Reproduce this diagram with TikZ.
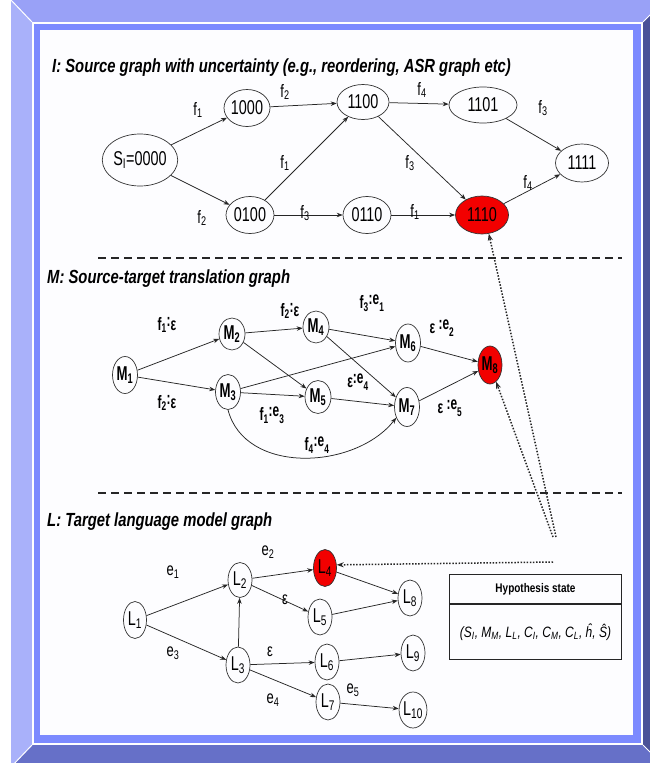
\documentclass[tikz,border=0pt]{standalone}
\usepackage{fontspec}
\setmainfont{Liberation Sans}
\newfontfamily\narrow{Liberation Sans}[FakeStretch=0.72]
\newfontfamily\mfont{Liberation Sans}[FakeStretch=0.66]
\newfontfamily\titlefont{Liberation Sans}[FakeStretch=0.78]
\newfontfamily\boxfont{Liberation Sans}[FakeStretch=0.8]
\usetikzlibrary{shapes.geometric,arrows.meta}

\definecolor{bevtop}{HTML}{99A1F7}
\definecolor{bevleft}{HTML}{A9B1FA}
\definecolor{bevright}{HTML}{4A5198}
\definecolor{bevbot}{HTML}{6670C8}
\definecolor{band}{HTML}{7C8AFF}
\definecolor{panel}{HTML}{FDFDFF}
\definecolor{hot}{HTML}{F20000}

% edge labels with a raised colon part, e.g. f_1 :e_3
\newcommand{\tl}[3]{#1\textsubscript{#2}\raisebox{4pt}{:}#3}
\newcommand{\tle}[1]{\raisebox{4pt}{:e}\textsubscript{#1}}

\begin{document}
\begin{tikzpicture}[x=1pt,y=-1pt,
  state/.style={ellipse,draw=black!80,line width=0.7pt,inner sep=0pt,
    font=\narrow\fontsize{20}{20}\selectfont},
  mstate/.style={ellipse,draw=black!80,line width=0.7pt,inner sep=0pt,
    minimum width=25pt,minimum height=36pt,font=\mfont\bfseries\fontsize{20}{20}\selectfont},
  lstate/.style={ellipse,draw=black!80,line width=0.7pt,inner sep=0pt,
    minimum width=24pt,minimum height=36pt,font=\narrow\fontsize{20}{20}\selectfont},
  hotfill/.style={fill=hot},
  arr/.style={-{Stealth[length=6pt,width=4.5pt]},line width=0.75pt,draw=black!85},
  dotarr/.style={-{Stealth[length=7pt,width=5pt]},line width=1.5pt,
    dash pattern=on 1.5pt off 1.6pt,draw=black!85},
  sepline/.style={line width=1.8pt,dash pattern=on 8pt off 5pt,draw=black!85},
  elab/.style={inner sep=0pt,font=\narrow\fontsize{18}{18}\selectfont},
  mlab/.style={inner sep=0pt,font=\mfont\bfseries\fontsize{18}{18}\selectfont},
  title/.style={inner sep=0pt,anchor=base west,font=\titlefont\bfseries\itshape\fontsize{19}{19}\selectfont}
]
\useasboundingbox (0,0) rectangle (650,763);

% bevelled frame
\begin{scope}
  \clip (0,0) rectangle (650,763);
  \fill[white] (0,0) rectangle (650,763);
  \fill[bevtop] (11,0) -- (665,0) -- (643,22) -- (32,22) -- cycle;
  \fill[bevleft] (11,0) -- (32,22) -- (32,745) -- (11,767) -- cycle;
  \fill[bevright] (665,0) -- (665,767) -- (643,745) -- (643,22) -- cycle;
  \fill[bevbot] (11,767) -- (32,745) -- (643,745) -- (665,767) -- cycle;
  \draw[white,line width=1pt] (11,0) -- (32,22) (665,0) -- (643,22)
    (11,767) -- (32,745) (665,767) -- (643,745);
  \fill[white] (32,22) rectangle (643,745);
  \fill[band] (33.5,23.5) rectangle (641,743);
  \fill[panel] (40,30) rectangle (633,735);
\end{scope}

% ---------- I: source graph ----------
\node[title] (tI) at (52,72) {I: Source graph with uncertainty (e.g., reordering, ASR graph etc)};

\node[state,minimum width=60pt,minimum height=52pt] (s) at (140,160) {S\textsubscript{I}=0000};
\node[state,minimum width=46pt,minimum height=37pt] (n1000) at (247,108) {1000};
\node[state,minimum width=48pt,minimum height=37pt] (n0100) at (250,215) {0100};
\node[state,minimum width=52pt,minimum height=35pt] (n1100) at (363,102) {1100};
\node[state,minimum width=68pt,minimum height=36pt] (n1101) at (483,105) {1101};
\node[state,minimum width=53pt,minimum height=38pt] (n1111) at (582,163) {1111};
\node[state,minimum width=48pt,minimum height=37pt] (n0110) at (367,215) {0110};
\node[state,hotfill,minimum width=53pt,minimum height=38pt] (n1110) at (482,215) {1110};

\draw[arr] (s) -- (n1000);
\draw[arr] (s) -- (n0100);
\draw[arr] (n1000) -- (n1100);
\draw[arr] (n0100) -- (n1100);
\draw[arr] (n0100) -- (n0110);
\draw[arr] (n1100) -- (n1101);
\draw[arr] (n1100) -- (n1110);
\draw[arr] (n0110) -- (n1110);
\draw[arr] (n1101) -- (n1111);
\draw[arr] (n1110) -- (n1111);

\node[elab] (a1) at (198,110) {f\textsubscript{1}};
\node[elab] (a2) at (202,218) {f\textsubscript{2}};
\node[elab] (a3) at (285,92) {f\textsubscript{2}};
\node[elab] (a4) at (285,163) {f\textsubscript{1}};
\node[elab] (a5) at (305,213) {f\textsubscript{3}};
\node[elab] (a6) at (422,90) {f\textsubscript{4}};
\node[elab] (a7) at (410,163) {f\textsubscript{3}};
\node[elab] (a8) at (415,212) {f\textsubscript{1}};
\node[elab] (a9) at (543,108) {f\textsubscript{3}};
\node[elab] (a10) at (528,183) {f\textsubscript{4}};

\coordinate (sep1a) at (98,258);
\coordinate (sep1b) at (622,258);
\draw[sepline] (sep1a) -- (sep1b);

% ---------- M: translation graph ----------
\node[title] (tM) at (47,283) {M: Source-target translation graph};

\node[mstate,minimum height=37pt] (m1) at (125,375) {M\textsubscript{1}};
\node[mstate,minimum width=26pt,minimum height=32pt] (m2) at (232,334) {M\textsubscript{2}};
\node[mstate,minimum height=35pt] (m3) at (228,392) {M\textsubscript{3}};
\node[mstate,minimum width=26pt,minimum height=32pt] (m4) at (316,327) {M\textsubscript{4}};
\node[mstate,minimum width=26pt,minimum height=33pt] (m5) at (318,397) {M\textsubscript{5}};
\node[mstate,minimum height=38pt] (m6) at (408,343) {M\textsubscript{6}};
\node[mstate,minimum height=39pt] (m7) at (407,407) {M\textsubscript{7}};
\node[mstate,hotfill,minimum width=24pt,minimum height=38pt] (m8) at (490,365) {M\textsubscript{8}};

\draw[arr] (m1) -- (m2);
\draw[arr] (m1) -- (m3);
\draw[arr] (m2) -- (m4);
\draw[arr] (m2) -- (m5);
\draw[arr] (m3) -- (m6);
\draw[arr] (m3) -- (m5);
\draw[arr] (m4) -- (m6);
\draw[arr] (m4) -- (m7);
\draw[arr] (m5) -- (m7);
\draw[arr] (m6) -- (m8);
\draw[arr] (m7) -- (m8);
\draw[arr] (m3.south) .. controls (245,475) and (355,470) .. (m7.-135);

\node[mlab] (b1) at (167,325) {\tl{f}{1}{ε}};
\node[mlab] (b2) at (167,403) {\tl{f}{2}{ε}};
\node[mlab] (b3) at (290,311) {\tl{f}{2}{ε}};
\node[mlab] (b4) at (272,415) {f\textsubscript{1}\tle{3}};
\node[mlab] (b5) at (317,445) {f\textsubscript{4}\tle{4}};
\node[mlab] (b6) at (372,303) {f\textsubscript{3}\tle{1}};
\node[mlab] (b7) at (358,382) {ε\tle{4}};
\node[mlab] (b8) at (442,328) {ε \tle{2}};
\node[mlab] (b9) at (450,408) {ε \tle{5}};

\coordinate (sep2a) at (98,493);
\coordinate (sep2b) at (622,493);
\draw[sepline] (sep2a) -- (sep2b);

% ---------- L: target language model graph ----------
\node[title] (tL) at (47,526) {L: Target language model graph};

\node[lstate,minimum width=23pt,minimum height=37pt] (l1) at (135,620) {L\textsubscript{1}};
\node[lstate,minimum height=35pt] (l2) at (240,580) {L\textsubscript{2}};
\node[lstate] (l3) at (238,665) {L\textsubscript{3}};
\node[lstate,hotfill,minimum width=23pt,minimum height=37pt] (l4) at (325,568) {L\textsubscript{4}};
\node[lstate] (l5) at (320,617) {L\textsubscript{5}};
\node[lstate] (l6) at (327,662) {L\textsubscript{6}};
\node[lstate] (l7) at (328,702) {L\textsubscript{7}};
\node[lstate] (l8) at (410,598) {L\textsubscript{8}};
\node[lstate] (l9) at (413,653) {L\textsubscript{9}};
\node[lstate,minimum width=26pt] (l10) at (413,710) {L\textsubscript{10}};

\draw[arr] (l1) -- (l2);
\draw[arr] (l1) -- (l3);
\draw[arr] (l3) -- (l2);
\draw[arr] (l2) -- (l4);
\draw[arr] (l2) -- (l5);
\draw[arr] (l3) -- (l6);
\draw[arr] (l3) -- (l7);
\draw[arr] (l4) -- (l8);
\draw[arr] (l5) -- (l8);
\draw[arr] (l6) -- (l9);
\draw[arr] (l7) -- (l10);

\node[elab] (c1) at (173,572) {e\textsubscript{1}};
\node[elab] (c2) at (173,653) {e\textsubscript{3}};
\node[elab] (c3) at (268,552) {e\textsubscript{2}};
\node[elab] (c4) at (285,600) {ε};
\node[elab] (c5) at (270,652) {ε};
\node[elab] (c6) at (273,700) {e\textsubscript{4}};
\node[elab] (c7) at (353,690) {e\textsubscript{5}};

% ---------- hypothesis state box and links ----------
\node[draw=black!85,line width=1pt,minimum width=172pt,minimum height=29pt,anchor=north west,
  inner sep=0pt,font=\boxfont\bfseries\fontsize{12.5}{12.5}\selectfont] (hyphead) at (449,574) {Hypothesis state};
\node[draw=black!85,line width=1pt,minimum width=172pt,minimum height=55pt,anchor=north,
  inner sep=0pt,font=\boxfont\itshape\fontsize{15}{15}\selectfont] (hypbody) at (hyphead.south)
  {(S\textsubscript{I}, M\textsubscript{M}, L\textsubscript{L}, C\textsubscript{I}, C\textsubscript{M}, C\textsubscript{L}, ĥ, Ŝ)};

\coordinate (hs1) at (553,537);
\coordinate (hs2) at (556,537);
\coordinate (hs3) at (553,562);
\draw[dotarr] (hs1) -- (m8);
\draw[dotarr] (hs2) -- (n1110.-70);
\draw[dotarr] (hs3) -- (l4.15);
\end{tikzpicture}
\end{document}
